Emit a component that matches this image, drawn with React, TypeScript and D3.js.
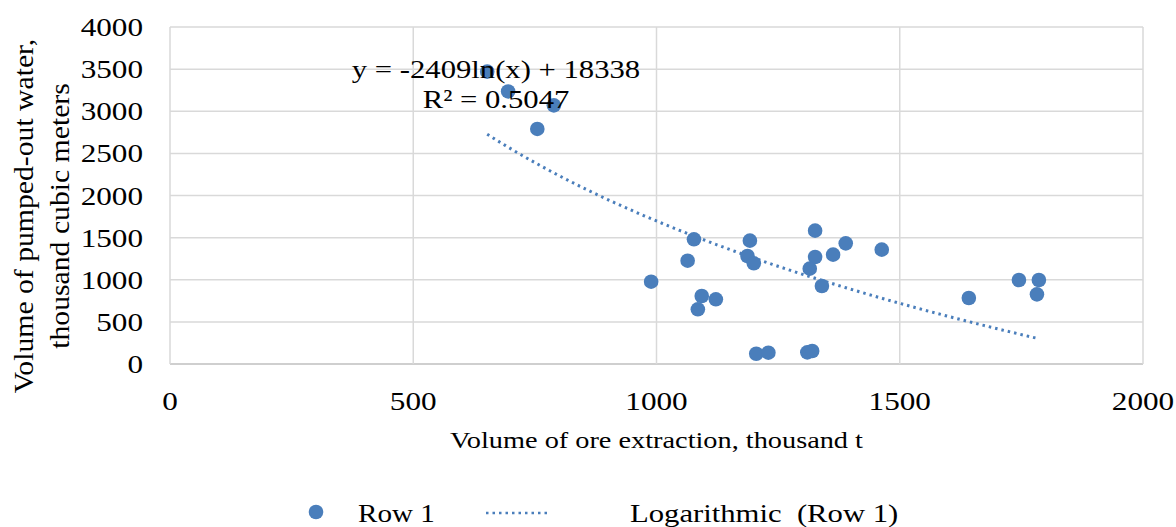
import React from "react";
import * as d3 from "d3";

// ore extraction (thousand t) vs pumped-out water (thousand m3)
const oreVolume = [652, 695, 789, 755, 989, 1077, 1064, 1093, 1085, 1122, 1192, 1187, 1200, 1205, 1230, 1310, 1320, 1326, 1326, 1315, 1340, 1363, 1389, 1463, 1642, 1745, 1786, 1782];
const waterVolume = [3470, 3235, 3070, 2790, 977, 1480, 1226, 807, 649, 768, 1464, 1282, 1195, 122, 134, 138, 154, 1583, 1270, 1132, 926, 1298, 1432, 1357, 783, 997, 997, 827];
const xTicks = [0, 500, 1000, 1500, 2000];
const yTicks = [0, 500, 1000, 1500, 2000, 2500, 3000, 3500, 4000];
const trendA = -2409;
const trendB = 18338;
const equationLines = ["y = -2409ln(x) + 18338", "R² = 0.5047"];
const xTitle = "Volume of ore extraction, thousand t";
const yTitleLines = ["Volume of pumped-out water,", "thousand cubic meters"];
const legendItems = ["Row 1", "Logarithmic  (Row 1)"];

const W = 1176, H = 527;
const left = 170, right = 1143, top = 27, bottom = 364;
const blue = "#4a7ebb";
const font = "'Liberation Serif', 'Times New Roman', serif";
const SX = 1.18; // the source text is drawn a bit wide

// text stretched horizontally around its anchor
function Txt(props: { x: number; y: number; size: number; anchor?: string; sx?: number; dy?: string; children: React.ReactNode }) {
  const { x, y, size, anchor = "start", sx = SX, dy, children } = props;
  return (
    <text transform={`translate(${x},${y}) scale(${sx},1)`} textAnchor={anchor} fontSize={size} dy={dy}
      fill="#000" style={{ whiteSpace: "pre" }}>{children}</text>
  );
}

export default function App() {
  const x = d3.scaleLinear().domain([0, 2000]).range([left, right]);
  const y = d3.scaleLinear().domain([0, 4000]).range([bottom, top]);

  const xMin = d3.min(oreVolume)!;
  const xMax = d3.max(oreVolume)!;
  const trendPts = d3.range(0, 61).map(i => {
    const v = xMin + (xMax - xMin) * i / 60;
    return [v, trendA * Math.log(v) + trendB] as [number, number];
  });
  const trend = d3.line<[number, number]>().x(d => x(d[0])).y(d => y(d[1]))(trendPts)!;

  return (
    <svg width={W} height={H} style={{ position: "absolute", left: 0, top: 0, background: "#fff" }} fontFamily={font}>
      {/* gridlines */}
      {yTicks.map(t => (
        <line key={"gy" + t} x1={left} x2={right} y1={y(t)} y2={y(t)} stroke={t === 0 ? "#bfbfbf" : "#d9d9d9"} strokeWidth={1.5} />
      ))}
      {xTicks.map(t => (
        <line key={"gx" + t} x1={x(t)} x2={x(t)} y1={top} y2={bottom} stroke="#d9d9d9" strokeWidth={1.5} />
      ))}

      {/* tick labels */}
      {yTicks.map(t => (
        <Txt key={"ty" + t} x={143} y={y(t)} dy="0.35em" anchor="end" size={26} sx={1.2}>{t}</Txt>
      ))}
      {xTicks.map(t => (
        <Txt key={"tx" + t} x={x(t)} y={410} anchor="middle" size={26} sx={1.2}>{t}</Txt>
      ))}

      {/* trendline */}
      <path d={trend} fill="none" stroke={blue} strokeWidth={3} strokeDasharray="2.5 4" />

      {/* points */}
      {oreVolume.map((v, i) => (
        <circle key={i} cx={x(v)} cy={y(waterVolume[i])} r={7.3} fill={blue} />
      ))}

      {/* equation */}
      <Txt x={496} y={78} anchor="middle" size={26}>{equationLines[0]}</Txt>
      <Txt x={496} y={108} anchor="middle" size={26}>{equationLines[1]}</Txt>

      {/* axis titles */}
      <Txt x={(left + right) / 2} y={448} anchor="middle" size={24}>{xTitle}</Txt>
      <g transform="translate(33,216) rotate(-90)">
        <Txt x={0} y={0} anchor="middle" size={27} sx={1.1}>{yTitleLines[0]}</Txt>
        <Txt x={0} y={36} anchor="middle" size={27} sx={1.1}>{yTitleLines[1]}</Txt>
      </g>

      {/* legend */}
      <circle cx={316} cy={512} r={7.3} fill={blue} />
      <Txt x={358} y={522} size={26} sx={1.12}>{legendItems[0]}</Txt>
      <line x1={486} x2={550} y1={513} y2={513} stroke={blue} strokeWidth={2.5} strokeDasharray="2.5 4" />
      <Txt x={630} y={522} size={26}>{legendItems[1]}</Txt>
    </svg>
  );
}
